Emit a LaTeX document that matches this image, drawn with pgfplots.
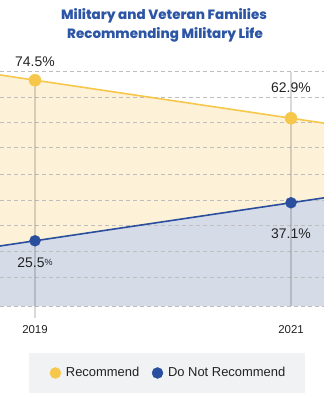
\documentclass[border=0pt]{standalone}
\usepackage{pgfplots}
\pgfplotsset{compat=1.18}
\usepackage{fontspec}
\setmainfont{Liberation Sans}
\newfontfamily\titlefont{Poppins}[BoldFont={Poppins ExtraBold}]
\definecolor{ycol}{HTML}{F6C74B}
\definecolor{yfill}{HTML}{FDF2D8}
\definecolor{bcol}{HTML}{2A4E9E}
\definecolor{bfill}{HTML}{D5DCE8}
\definecolor{gridc}{HTML}{BEBEBE}
\definecolor{legbg}{HTML}{F1F2F4}
\definecolor{titlec}{HTML}{2C55A5}
\definecolor{txt}{HTML}{222222}
\begin{document}
\begin{tikzpicture}
\fill[legbg] (29bp,-87bp) rectangle (305bp,-47bp);
\node[text=titlec, font=\titlefont\bfseries\fontsize{13.5}{15}\selectfont] at (164bp,290bp) {Military and Veteran Families};
\node[text=titlec, font=\titlefont\bfseries\fontsize{13.5}{15}\selectfont] at (165bp,271bp) {Recommending Military Life};
\begin{axis}[
  set layers,
  at={(0,0)}, anchor=south west,
  scale only axis, width=324bp, height=234bp,
  xmin=2018.7266, xmax=2021.2578,
  ymin=5.6, ymax=77.0,
  clip=false,
  axis line style={draw=none},
  tick style={draw=none},
  xtick={2019,2021}, xticklabels={2019,2021},
  xticklabel style={font=\fontsize{11.5}{13}\selectfont, text=txt, yshift=-16bp},
  ytick={5.6,14.44,22.38,30.31,37.94,45.87,53.81,61.44,69.37,77.0},
  yticklabels={},
  ymajorgrids,
  major grid style={gridc, line width=1bp, dash pattern=on 4bp off 3bp},
  /pgf/number format/assume math mode=true,
  legend columns=2,
  legend style={draw=none, fill=none, at={(0.1528,-0.2863)}, anchor=west,
    inner sep=0pt, font=\fontsize{13}{15}\selectfont,
    nodes={inner sep=2.5bp, text=txt},
    /tikz/every even column/.append style={column sep=10bp}},
  legend image code/.code={\fill (5.5bp,0bp) circle (5.5bp); \path[draw=none,fill=none] (0,-0.1bp) rectangle (13.5bp,0.1bp);},
]
\addplot[draw=none, fill=yfill, forget plot, on layer=axis background] coordinates {
  (2018.7266,5.6) (2018.7266,76.09) (2019,74.5) (2021,62.9) (2021.2578,61.40) (2021.2578,5.6)};
\addplot[draw=none, fill=bfill, forget plot, on layer=axis background] coordinates {
  (2018.7266,5.6) (2018.7266,23.91) (2019,25.5) (2021,37.1) (2021.2578,38.60) (2021.2578,5.6)};
\draw[black, opacity=0.15, line width=1.8bp] (axis cs:2019,74.5) -- (axis cs:2019,1.94);
\draw[black, opacity=0.15, line width=1.8bp] (axis cs:2021,77.0) -- (axis cs:2021,5.6);
\addplot[ycol, line width=1.6bp, forget plot] coordinates {
  (2018.7266,76.09) (2019,74.5) (2021,62.9) (2021.2578,61.40)};
\addplot[bcol, line width=1.6bp, forget plot] coordinates {
  (2018.7266,23.91) (2019,25.5) (2021,37.1) (2021.2578,38.60)};
\addplot[ycol, only marks, mark=*, mark size=6bp] coordinates {(2019,74.5) (2021,62.9)};
\addlegendentry{Recommend}
\addplot[bcol, only marks, mark=*, mark size=5.5bp] coordinates {(2019,25.5) (2021,37.1)};
\addlegendentry{Do Not Recommend}
\node[text=txt, font=\fontsize{14}{16}\selectfont] at (axis cs:2019,80.05) {74.5\%};
\node[text=txt, font=\fontsize{14}{16}\selectfont] at (axis cs:2021,72.2) {62.9\%};
\node[text=txt, font=\fontsize{14}{16}\selectfont] at (axis cs:2019,18.71) {25.5{\fontsize{9}{9}\selectfont\raisebox{2.5bp}{\%}}};
\node[text=txt, font=\fontsize{14}{16}\selectfont] at (axis cs:2021,27.6) {37.1\%};
\end{axis}
\pgfresetboundingbox
\path (0,-94bp) rectangle (324bp,306bp);
\end{tikzpicture}
\end{document}
